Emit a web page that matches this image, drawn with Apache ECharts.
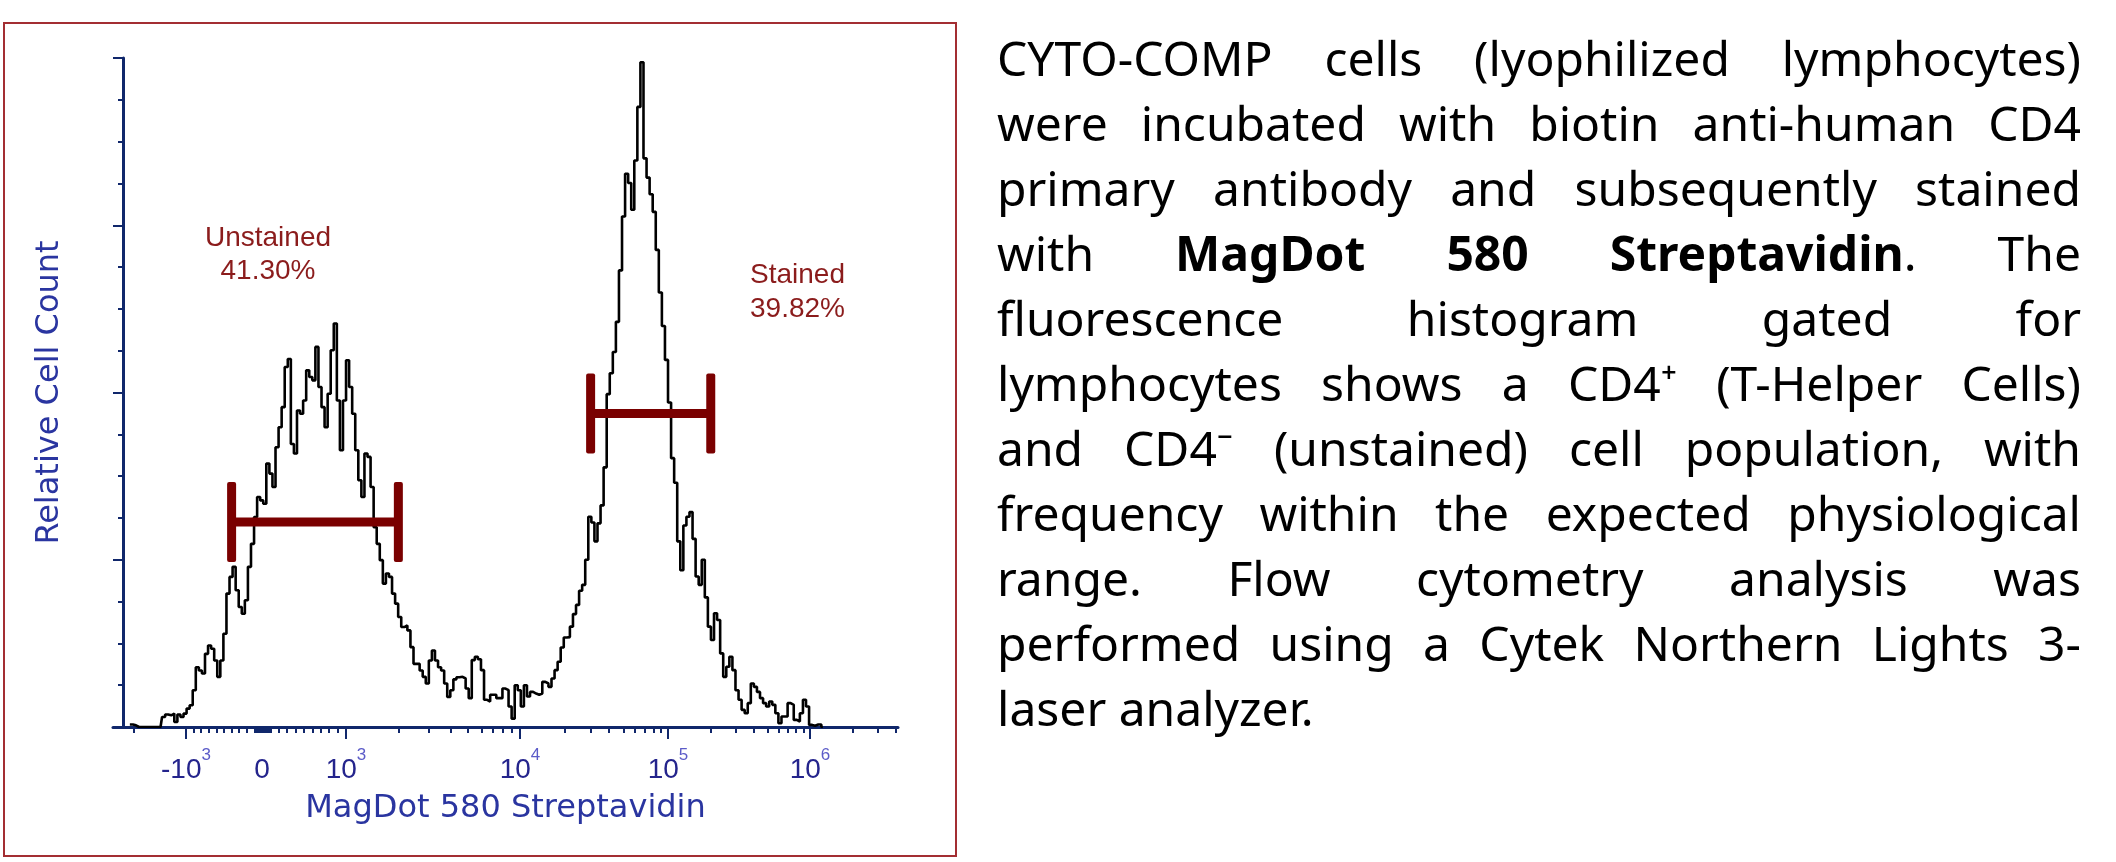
<!DOCTYPE html>
<html><head><meta charset="utf-8">
<script src="https://cdn.jsdelivr.net/npm/echarts@6/dist/echarts.min.js"></script>
<style>html,body{margin:0;padding:0;background:#fff;}#c{width:2116px;height:862px;}</style>
</head><body><div id="c"></div>
<script>
// ---------------- DATA ----------------
// Histogram: relative cell counts per display bin (4 display channels per bin, 1024 channels)
const firstBin = 5;
const channelsPerBin = 4;
const cellCounts = [
  0.6,0.6,0.4,
  0,0,0,0,0,0,0,0,
  2.4,3.0,2.8,3.2,1.2,3.0,2.4,3.2,4.4,5.2,
  8.8,14.3,13.5,12.8,17.5,19.5,18.7,15.9,12.0,15.9,
  22.3,31.9,35.9,38.3,32.7,28.7,27.1,30.3,38.3,43.8,
  50.2,55.0,54.2,53.4,63.0,60.6,57.4,66.9,71.7,76.5,
  86.1,88.0,67.7,65.4,75.7,74.9,78.1,85.3,83.7,82.9,
  90.9,81.3,76.5,71.7,79.7,90.1,96.5,78.1,66.2,78.1,
  87.7,81.3,74.9,66.2,59.0,55.0,65.4,64.6,57.4,47.8,
  43.8,39.9,34.3,36.7,35.9,31.9,29.5,26.3,23.9,24.3,
  23.1,19.1,15.1,15.1,13.5,12.0,10.4,15.9,18.3,15.9,
  14.3,13.5,10.4,7.2,8.8,11.4,11.9,12.0,11.6,9.2,
  6.9,16.0,16.8,16.2,13.6,6.5,6.1,7.7,7.7,6.9,
  6.9,9.2,8.8,4.9,2.0,10.0,8.8,4.9,10.0,7.3,
  8.4,8.0,7.7,8.0,10.8,10.4,9.6,11.6,13.6,15.6,
  19.0,21.4,21.5,24.0,27.0,29.2,32.6,34.0,40.0,50.3,
  48.9,44.4,48.7,53.0,62.1,79.6,84.6,89.7,96.9,109.2,
  122.1,132.3,130.1,123.7,135.5,148.3,159.0,136.0,131.4,127.4,
  123.2,114.1,103.9,95.9,87.8,77.6,64.3,58.4,44.4,37.5,
  48.2,50.3,51.4,45.0,36.0,34.0,40.0,31.0,24.0,20.8,
  27.2,25.6,17.6,12.0,14.4,16.8,13.6,8.8,6.5,4.1,
  3.3,5.7,10.4,9.6,8.4,6.9,5.7,4.9,6.1,5.3,
  3.3,0.9,2.5,2.5,5.7,5.3,1.7,1.3,3.3,6.5,
  4.9,0.5,0.3,0.6,0.6,0
];

// Gates (fluorescence intensity range, relative count level)
const gateNames = ['Unstained', 'Stained'];
const gatePercents = ['41.30%', '39.82%'];
const gateRanges = [[-400, 2000], [30000, 200000]];
const gateLevels = [49, 75];

// Biexponential display scale: intensity -> display channel anchors
const scaleValues = [-1000, 0, 1000, 1e4, 1e5, 1e6];
const scaleChannels = [95.2, 194.4, 303.9, 530.9, 724.0, 909.2];

// Axis tick labels
const labelValues = [-1000, 0, 1000, 1e4, 1e5, 1e6];
const labelBases = ['-10', '0', '10', '10', '10', '10'];
const labelExps = ['3', '', '3', '4', '5', '6'];
const majorTickValues = [-1000, 1000, 1e4, 1e5, 1e6];

const xTitle = 'MagDot 580 Streptavidin';
const yTitle = 'Relative Cell Count';

const paragraphLines = [
  'CYTO-COMP cells (lyophilized lymphocytes)',
  'were incubated with biotin anti-human CD4',
  'primary antibody and subsequently stained',
  'with **MagDot 580 Streptavidin**. The',
  'fluorescence histogram gated for',
  'lymphocytes shows a CD4\u207A (T-Helper Cells)',
  'and CD4\u207B (unstained) cell population, with',
  'frequency within the expected physiological',
  'range. Flow cytometry analysis was',
  'performed using a Cytek Northern Lights 3-',
  'laser analyzer.'
];

// ---------------- SCALE ----------------
function toChannel(v) {
  const V = scaleValues, C = scaleChannels;
  if (v <= V[0]) return C[0] - (C[3] - C[2]) * Math.log10(-v / 1000);
  if (v >= V[5]) return C[5] + (C[5] - C[4]) * Math.log10(v / 1e6);
  for (let k = 0; k < V.length - 1; k++) {
    if (v >= V[k] && v <= V[k + 1]) {
      if (V[k] >= 1000) {
        const f = (Math.log10(v) - Math.log10(V[k])) / (Math.log10(V[k + 1]) - Math.log10(V[k]));
        return C[k] + f * (C[k + 1] - C[k]);
      }
      return C[k] + (v - V[k]) / (V[k + 1] - V[k]) * (C[k + 1] - C[k]);
    }
  }
}
const minorTickValues = [-2000];
for (let v = -900; v <= -100; v += 100) minorTickValues.push(v);
for (let v = -90; v <= 90; v += 10) minorTickValues.push(v);
for (let v = 100; v <= 900; v += 100) minorTickValues.push(v);
[1e3, 1e4, 1e5].forEach(d => { for (let m = 2; m <= 9; m++) minorTickValues.push(m * d); });
[2e6, 3e6, 4e6].forEach(v => minorTickValues.push(v));

const labelChannels = labelValues.map(toChannel);
const majorChannels = majorTickValues.map(toChannel);
const minorChannels = minorTickValues.map(toChannel);

const histData = cellCounts.map((c, k) => [(firstBin + k) * channelsPerBin + channelsPerBin / 2, c]);
const gateData = gateRanges.map((r, k) => [toChannel(r[0]), toChannel(r[1]), gateLevels[k]]);

// ---------------- STYLE ----------------
const AXIS = '#10276b';
const GATE = '#7a0000';
const LABEL_RED = '#8b1c1c';
const TITLE_BLUE = '#2a35a0';

const chart = echarts.init(document.getElementById('c'), null, { renderer: 'canvas' });

// paragraph layout (justified)
const PX = 997, PR = 2081, PB0 = 79, PLH = 65, PFS = 48, PFONT = '"Noto Sans", sans-serif';
const mctx = document.createElement('canvas').getContext('2d');
function measure(t, bold) { mctx.font = (bold ? '700 ' : '400 ') + PFS + 'px ' + PFONT; return mctx.measureText(t).width; }
function parseLine(s) {
  const parts = s.split('**'); const words = [[]];
  parts.forEach((p, pi) => {
    const bold = pi % 2 === 1;
    p.split(' ').forEach((ch, ci) => { if (ci > 0) words.push([]); if (ch) words[words.length - 1].push({ t: ch, b: bold }); });
  });
  return words.filter(w => w.length);
}
const graphics = [];
graphics.push({ type: 'rect', shape: { x: 4, y: 23, width: 952, height: 833 }, style: { fill: 'none', stroke: '#a32e32', lineWidth: 2 }, silent: true });
paragraphLines.forEach((line, li) => {
  const words = parseLine(line);
  const widths = words.map(w => w.reduce((s, seg) => s + measure(seg.t, seg.b), 0));
  const total = widths.reduce((a, b) => a + b, 0);
  const last = li === paragraphLines.length - 1;
  const gap = last ? measure(' ', false) : (PR - PX - total) / (words.length - 1);
  let x = PX;
  const y = PB0 + li * PLH - 17;
  words.forEach((w, wi) => {
    let sx = x;
    w.forEach(seg => {
      graphics.push({ type: 'text', x: sx, y: y, style: { text: seg.t, font: (seg.b ? '700 ' : '400 ') + PFS + 'px ' + PFONT, fill: '#000', align: 'left', verticalAlign: 'middle' }, silent: true });
      sx += measure(seg.t, seg.b);
    });
    x += widths[wi] + gap;
  });
});
// gate labels
const lblFont = '28px "Liberation Sans", Arial, sans-serif';
graphics.push({ type: 'text', x: 268, y: 238, style: { text: gateNames[0], font: lblFont, fill: LABEL_RED, align: 'center', verticalAlign: 'middle' } });
graphics.push({ type: 'text', x: 268, y: 271, style: { text: gatePercents[0], font: lblFont, fill: LABEL_RED, align: 'center', verticalAlign: 'middle' } });
graphics.push({ type: 'text', x: 750, y: 275, style: { text: gateNames[1], font: lblFont, fill: LABEL_RED, align: 'left', verticalAlign: 'middle' } });
graphics.push({ type: 'text', x: 750, y: 309, style: { text: gatePercents[1], font: lblFont, fill: LABEL_RED, align: 'left', verticalAlign: 'middle' } });

function labelFor(val) {
  for (let k = 0; k < labelChannels.length; k++) {
    if (Math.abs(labelChannels[k] - val) < 0.01) {
      return labelExps[k] ? '{b|' + labelBases[k] + '}{s|' + labelExps[k] + '}' : '{b|' + labelBases[k] + '}';
    }
  }
  return '';
}

const option = {
  animation: false,
  backgroundColor: '#fff',
  graphic: graphics,
  grid: { left: 113, top: 58, width: 785, height: 669, containLabel: false, outerBoundsMode: 'none' },
  xAxis: [
    {
      type: 'value', min: 0, max: 1024, position: 'bottom',
      axisLine: { show: true, onZero: false, lineStyle: { color: AXIS, width: 3 } },
      axisTick: { show: true, customValues: majorChannels, length: 12, lineStyle: { color: AXIS, width: 2 } },
      axisLabel: {
        show: true, customValues: labelChannels, margin: 29, formatter: labelFor,
        rich: {
          b: { fontFamily: '"Liberation Sans", Arial, sans-serif', fontSize: 28, color: '#24248c', lineHeight: 28, padding: [19, 0, 0, 0], verticalAlign: 'bottom' },
          s: { fontFamily: '"Liberation Sans", Arial, sans-serif', fontSize: 17, color: '#5b5bc8', lineHeight: 17, padding: [0, 0, 20, 0], verticalAlign: 'bottom' }
        }
      },
      splitLine: { show: false },
      name: xTitle, nameLocation: 'middle', nameGap: 66,
      nameTextStyle: { fontFamily: '"DejaVu Sans", sans-serif', fontSize: 32, color: TITLE_BLUE }
    },
    {
      type: 'value', min: 0, max: 1024, position: 'bottom',
      axisLine: { show: false, onZero: false },
      axisTick: { show: true, customValues: minorChannels, length: 6, lineStyle: { color: AXIS, width: 2 } },
      axisLabel: { show: false },
      splitLine: { show: false }
    }
  ],
  yAxis: {
    type: 'value', min: 0, max: 160, interval: 40, offset: -10,
    axisLine: { show: true, onZero: false, lineStyle: { color: AXIS, width: 3 } },
    axisTick: { show: true, length: 10, lineStyle: { color: AXIS, width: 2 } },
    minorTick: { show: true, splitNumber: 4, length: 5, lineStyle: { color: AXIS, width: 2 } },
    axisLabel: { show: false },
    splitLine: { show: false },
    minorSplitLine: { show: false },
    name: yTitle, nameLocation: 'middle', nameGap: 57,
    nameTextStyle: { fontFamily: '"DejaVu Sans", sans-serif', fontSize: 32, color: TITLE_BLUE }
  },
  series: [
    {
      type: 'line', xAxisIndex: 0, data: histData, step: 'middle', showSymbol: false, symbol: 'none',
      lineStyle: { color: '#000', width: 2.6 }, z: 3, silent: true
    },
    {
      type: 'custom', xAxisIndex: 0, data: gateData, z: 4, silent: true,
      encode: { x: [0, 1], y: 2 },
      renderItem: function (params, api) {
        const p1 = api.coord([api.value(0), api.value(2)]);
        const p2 = api.coord([api.value(1), api.value(2)]);
        const th = 9, capW = 9, capH = 80;
        const st = { fill: GATE };
        return {
          type: 'group', children: [
            { type: 'rect', shape: { x: p1[0], y: p1[1] - th / 2, width: p2[0] - p1[0], height: th }, style: st },
            { type: 'rect', shape: { x: p1[0] - capW / 2, y: p1[1] - capH / 2, width: capW, height: capH, r: 2 }, style: st },
            { type: 'rect', shape: { x: p2[0] - capW / 2, y: p2[1] - capH / 2, width: capW, height: capH, r: 2 }, style: st }
          ]
        };
      }
    }
  ]
};
chart.setOption(option);
</script>
</body></html>
